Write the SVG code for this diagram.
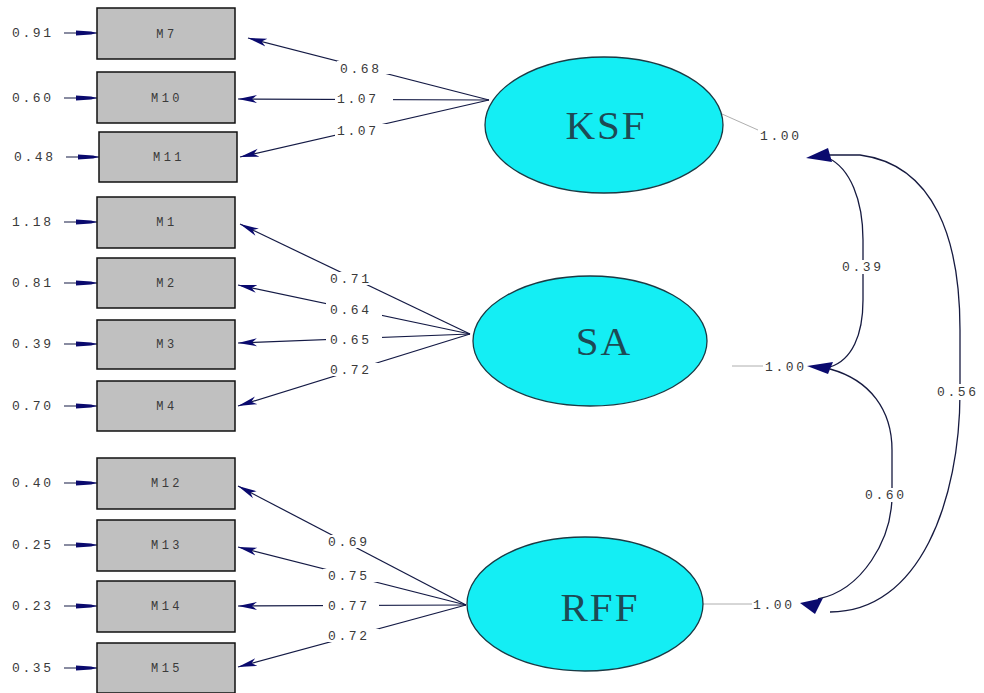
<svg xmlns="http://www.w3.org/2000/svg" width="984" height="693" viewBox="0 0 984 693">
  <style>
    .box { fill: #c0c0c0; stroke: #111; stroke-width: 1.5; }
    .blabel { font-family: "Liberation Mono", monospace; font-size: 12px; letter-spacing: 3.5px; fill: #3a3a3a; text-anchor: middle; }
    .num { font-family: "Liberation Mono", monospace; font-size: 13px; letter-spacing: 2.6px; fill: #3a3a3a; }
    .lat { fill: #14eef4; stroke: #1a3a44; stroke-width: 1.3; }
    .latlabel { font-family: "Liberation Serif", serif; font-size: 41px; fill: #1d4a55; text-anchor: middle; letter-spacing: 2px; }
    .load { stroke: #141a45; stroke-width: 1.2; fill: none; marker-end: url(#head); }
    .err { stroke: #141a45; stroke-width: 1.2; fill: none; }
    .errhead { fill: #0a0a6e; }
    .cov { stroke: #161a40; stroke-width: 1.3; fill: none; }
    .tip { fill: #0a0a6e; }
    .var { stroke: #999; stroke-width: 0.8; fill: none; }
    .gap { fill: #fff; }
  </style>
  <defs>
    <marker id="head" markerUnits="userSpaceOnUse" markerWidth="20" markerHeight="10" refX="19" refY="4.5" orient="auto">
      <path d="M0,0.5 L19,4.5 L0,8.5 L5,4.5 z" fill="#0a0a6e"/>
    </marker>
    <path id="errArrow" d="M76,-2.5 L91,-1.5 L97,0 L91,1.5 L76,2.5 z"/>
  </defs>
  <rect width="984" height="693" fill="#fff"/>

  <!-- connectors: loadings, error terms, covariances -->
  <g id="connectors">
    <!-- KSF loadings -->
    <line class="load" x1="489" y1="100" x2="248" y2="38"/>
    <line class="load" x1="489" y1="100" x2="238" y2="99"/>
    <line class="load" x1="489" y1="100" x2="240" y2="157"/>
    <!-- SA loadings -->
    <line class="load" x1="470" y1="334" x2="240" y2="224"/>
    <line class="load" x1="470" y1="334" x2="238" y2="285"/>
    <line class="load" x1="470" y1="334" x2="238" y2="343"/>
    <line class="load" x1="470" y1="334" x2="238" y2="406"/>
    <!-- RFF loadings -->
    <line class="load" x1="466" y1="605" x2="238" y2="486"/>
    <line class="load" x1="466" y1="605" x2="238" y2="547"/>
    <line class="load" x1="466" y1="605" x2="238" y2="606"/>
    <line class="load" x1="466" y1="605" x2="238" y2="667"/>

    <!-- loading values -->
    <rect class="gap" x="337" y="61" width="56" height="13"/>
    <text class="num" x="340" y="73">0.68</text>
    <rect class="gap" x="335" y="93" width="58" height="13"/>
    <text class="num" x="337" y="103">1.07</text>
    <rect class="gap" x="335" y="124" width="58" height="13"/>
    <text class="num" x="337" y="135">1.07</text>

    <rect class="gap" x="326" y="272" width="56" height="13"/>
    <text class="num" x="330" y="283">0.71</text>
    <rect class="gap" x="326" y="303" width="56" height="13"/>
    <text class="num" x="330" y="314">0.64</text>
    <rect class="gap" x="326" y="333" width="56" height="13"/>
    <text class="num" x="330" y="344">0.65</text>
    <rect class="gap" x="326" y="363" width="56" height="13"/>
    <text class="num" x="330" y="374">0.72</text>

    <rect class="gap" x="323" y="535" width="56" height="13"/>
    <text class="num" x="328" y="546">0.69</text>
    <rect class="gap" x="323" y="569" width="56" height="13"/>
    <text class="num" x="328" y="580">0.75</text>
    <rect class="gap" x="323" y="599" width="56" height="13"/>
    <text class="num" x="328" y="610">0.77</text>
    <rect class="gap" x="323" y="629" width="56" height="13"/>
    <text class="num" x="328" y="640">0.72</text>

    <!-- error variances -->
    <g>
      <line class="err" x1="64" y1="33" x2="97" y2="33"/>
      <use href="#errArrow" class="errhead" y="33"/>
      <text class="num" x="12" y="37">0.91</text>
    </g>
    <g>
      <line class="err" x1="64" y1="98" x2="97" y2="98"/>
      <use href="#errArrow" class="errhead" y="98"/>
      <text class="num" x="12" y="102">0.60</text>
    </g>
    <g>
      <line class="err" x1="66" y1="157" x2="99" y2="157"/>
      <use href="#errArrow" class="errhead" x="2" y="157"/>
      <text class="num" x="14" y="161">0.48</text>
    </g>
    <g>
      <line class="err" x1="64" y1="222" x2="97" y2="222"/>
      <use href="#errArrow" class="errhead" y="222"/>
      <text class="num" x="12" y="226">1.18</text>
    </g>
    <g>
      <line class="err" x1="64" y1="283" x2="97" y2="283"/>
      <use href="#errArrow" class="errhead" y="283"/>
      <text class="num" x="12" y="287">0.81</text>
    </g>
    <g>
      <line class="err" x1="64" y1="344" x2="97" y2="344"/>
      <use href="#errArrow" class="errhead" y="344"/>
      <text class="num" x="12" y="348">0.39</text>
    </g>
    <g>
      <line class="err" x1="64" y1="406" x2="97" y2="406"/>
      <use href="#errArrow" class="errhead" y="406"/>
      <text class="num" x="12" y="410">0.70</text>
    </g>
    <g>
      <line class="err" x1="64" y1="483" x2="97" y2="483"/>
      <use href="#errArrow" class="errhead" y="483"/>
      <text class="num" x="12" y="487">0.40</text>
    </g>
    <g>
      <line class="err" x1="64" y1="545" x2="97" y2="545"/>
      <use href="#errArrow" class="errhead" y="545"/>
      <text class="num" x="12" y="549">0.25</text>
    </g>
    <g>
      <line class="err" x1="64" y1="606" x2="97" y2="606"/>
      <use href="#errArrow" class="errhead" y="606"/>
      <text class="num" x="12" y="610">0.23</text>
    </g>
    <g>
      <line class="err" x1="64" y1="668" x2="97" y2="668"/>
      <use href="#errArrow" class="errhead" y="668"/>
      <text class="num" x="12" y="672">0.35</text>
    </g>

    <!-- latent variances -->
    <line class="var" x1="722" y1="114" x2="758" y2="130"/>
    <text class="num" x="760" y="140">1.00</text>
    <line class="var" x1="732" y1="366" x2="763" y2="366"/>
    <text class="num" x="765" y="371">1.00</text>
    <line class="var" x1="703" y1="604" x2="752" y2="604"/>
    <text class="num" x="753" y="609">1.00</text>

    <!-- covariances -->
    <path class="cov" d="M828,158 C850,168 863,200 863,240 L863,300 C863,335 852,360 830,367"/>
    <path class="cov" d="M830,369 C870,380 892,410 892,450 L892,495 C892,540 862,590 818,599"/>
    <path class="cov" d="M828,155 L860,155 C935,165 960,240 960,330 L960,392 C960,500 920,612 830,612"/>
    <rect class="gap" x="840" y="260" width="50" height="14"/>
    <text class="num" x="842" y="271">0.39</text>
    <rect class="gap" x="864" y="488" width="50" height="14"/>
    <text class="num" x="865" y="499">0.60</text>
    <rect class="gap" x="936" y="384" width="48" height="16"/>
    <text class="num" x="937" y="396">0.56</text>
    <polygon class="tip" points="806,158 828,148 832,162"/>
    <polygon class="tip" points="807,366 833,362 828,374"/>
    <polygon class="tip" points="800,603 823,598 815,614"/>
  </g>

  <!-- observed variables -->
  <g id="M7"><rect class="box" x="97" y="8" width="138" height="51"/><text class="blabel" x="167" y="38">M7</text></g>
  <g id="M10"><rect class="box" x="97" y="72" width="138" height="51"/><text class="blabel" x="167" y="102">M10</text></g>
  <g id="M11"><rect class="box" x="99" y="132" width="138" height="50"/><text class="blabel" x="169" y="161">M11</text></g>
  <g id="M1"><rect class="box" x="97" y="197" width="138" height="51"/><text class="blabel" x="167" y="226">M1</text></g>
  <g id="M2"><rect class="box" x="97" y="258" width="138" height="50"/><text class="blabel" x="167" y="287">M2</text></g>
  <g id="M3"><rect class="box" x="97" y="320" width="138" height="49"/><text class="blabel" x="167" y="348">M3</text></g>
  <g id="M4"><rect class="box" x="97" y="381" width="138" height="50"/><text class="blabel" x="167" y="410">M4</text></g>
  <g id="M12"><rect class="box" x="97" y="458" width="138" height="51"/><text class="blabel" x="167" y="487">M12</text></g>
  <g id="M13"><rect class="box" x="97" y="520" width="138" height="51"/><text class="blabel" x="167" y="549">M13</text></g>
  <g id="M14"><rect class="box" x="97" y="581" width="138" height="51"/><text class="blabel" x="167" y="610">M14</text></g>
  <g id="M15"><rect class="box" x="97" y="643" width="138" height="50"/><text class="blabel" x="167" y="672">M15</text></g>

  <!-- latent variables -->
  <g id="KSF"><ellipse class="lat" cx="604" cy="125" rx="119" ry="68"/><text class="latlabel" x="606" y="139">KSF</text></g>
  <g id="SA"><ellipse class="lat" cx="590" cy="341" rx="117" ry="65"/><text class="latlabel" x="604" y="355">SA</text></g>
  <g id="RFF"><ellipse class="lat" cx="585" cy="604" rx="118" ry="67"/><text class="latlabel" x="600" y="621">RFF</text></g>
</svg>
